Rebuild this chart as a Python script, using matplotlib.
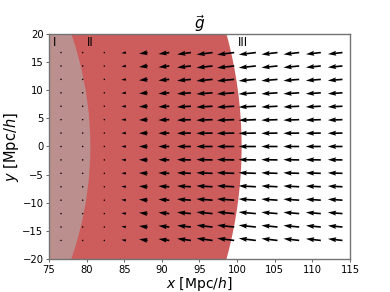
import numpy as np
import matplotlib
matplotlib.use("Agg")
import matplotlib.pyplot as plt
from matplotlib.patches import Circle

# grid of vector tails
x_grid = np.linspace(76.6, 114.0, 14)
y_grid = np.linspace(-16.7, 16.7, 15)
# magnitude of g per column (x data units)
g_mag = [0.0, 0.0, 0.12, 0.62, 1.15, 1.45, 1.85, 2.15, 2.3, 2.3, 2.15, 2.1, 2.0, 1.95]
# region radii
r_inner = 80.5
r_outer = 100.6
region_labels = ["I", "II", "III"]
region_label_x = [75.5, 80.0, 100.1]

fig = plt.figure(figsize=(3.9, 2.92), dpi=100)
ax = fig.add_axes([0.1256, 0.113, 0.7718, 0.7706])

ax.add_patch(Circle((0, 0), r_outer, color="indianred", zorder=0, lw=0))
ax.add_patch(Circle((0, 0), r_inner, color="rosybrown", zorder=0.5, lw=0))

X, Y = np.meshgrid(x_grid, y_grid)
M = np.tile(np.array(g_mag), (len(y_grid), 1))
R = np.hypot(X, Y)
U = -M * X / R
V = -M * Y / R
ax.quiver(X, Y, U, V, angles="xy", scale_units="xy", scale=1, color="black",
          zorder=2, width=0.0055)

for lab, lx in zip(region_labels, region_label_x):
    ax.text(lx, 18.5, lab, ha="left", va="center", fontsize=8.5, zorder=3)

ax.set_xlim(75, 115)
ax.set_ylim(-20, 20)
ax.set_xticks(np.arange(75, 116, 5))
ax.set_yticks(np.arange(-20, 21, 5))
ax.tick_params(labelsize=7.2, length=2.5, width=0.6, color="0.3", pad=1.5)
for s in ax.spines.values():
    s.set_color("0.45")
    s.set_linewidth(1.0)
ax.set_xlabel(r"$x$ [Mpc/$h$]", fontsize=10, labelpad=0)
ax.set_ylabel(r"$y$ [Mpc/$h$]", fontsize=10.5, labelpad=1)
ax.set_title(r"$\vec{g}$", fontsize=11, pad=3)

fig.savefig("out.png", dpi=100)
